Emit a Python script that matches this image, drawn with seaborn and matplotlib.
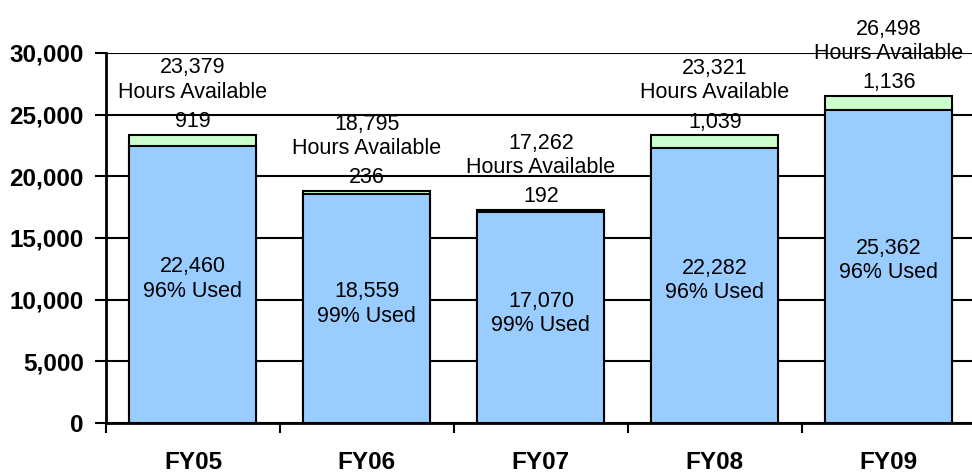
import pandas as pd
import seaborn as sns
import matplotlib.pyplot as plt
from matplotlib.ticker import FuncFormatter, FixedLocator

# data
years = ["FY05", "FY06", "FY07", "FY08", "FY09"]
used_hours = [22460, 18559, 17070, 22282, 25362]
unused_hours = [919, 236, 192, 1039, 1136]
available_hours = [23379, 18795, 17262, 23321, 26498]

df = pd.DataFrame({"year": years, "used": used_hours,
                   "unused": unused_hours, "available": available_hours})

sns.set_style("white")
plt.rcParams['font.family'] = ['Liberation Sans', 'DejaVu Sans']
plt.rcParams['text.color'] = 'black'
plt.rcParams['xtick.color'] = 'black'
plt.rcParams['ytick.color'] = 'black'

fig = plt.figure(figsize=(9.72, 4.76), dpi=100)
ax = fig.add_axes([0.109, 0.111, 0.895, 0.778])

ax.set_axisbelow(True)
ax.yaxis.grid(True, color="black", linewidth=1.5)

# total bar (green) underneath, used (blue) on top of it
sns.barplot(data=df, x="year", y="available", color="#CCFFCC", saturation=1,
            edgecolor="black", linewidth=1.5, width=0.73, ax=ax)
sns.barplot(data=df, x="year", y="used", color="#99CCFF", saturation=1,
            edgecolor="black", linewidth=1.5, width=0.73, ax=ax)

ax.set_ylim(0, 30000)
ax.set_xlim(-0.5, 4.5)
ax.set_xlabel("")
ax.set_ylabel("")
ax.yaxis.set_major_locator(FixedLocator(range(0, 30001, 5000)))
ax.yaxis.set_major_formatter(FuncFormatter(lambda v, p: f"{int(v):,}"))
for lab in ax.get_yticklabels():
    lab.set_fontweight("bold")
    lab.set_fontsize(17.5)
ax.tick_params(axis="y", left=True, length=8, width=1.5, direction="out", pad=8)

# x ticks sit between categories
ax.set_xticks(range(len(years)))
ax.set_xticklabels(years, fontsize=17.5, fontweight="bold")
ax.set_xticks([i - 0.5 for i in range(len(years) + 1)], minor=True)
ax.tick_params(axis="x", which="major", length=0, pad=20)
ax.tick_params(axis="x", which="minor", bottom=True, length=7, width=1.5, direction="out")

for side in ["top", "right"]:
    ax.spines[side].set_visible(False)
for side in ["left", "bottom"]:
    ax.spines[side].set_linewidth(2)
    ax.spines[side].set_color("black")

for i, row in df.iterrows():
    pct = round(100 * row["used"] / row["available"])
    ax.text(i, row["used"] * 0.52, f"{row['used']:,}\n{pct}% Used",
            ha="center", va="center", fontsize=15.5, linespacing=1.2)
    ax.annotate(f"{row['unused']:,}", (i, row["available"]),
                xytext=(0, 2), textcoords="offset points",
                ha="center", va="bottom", fontsize=15.5)
    ax.annotate(f"{row['available']:,}\nHours Available", (i, row["available"]),
                xytext=(0, 23), textcoords="offset points",
                ha="center", va="bottom", fontsize=15.5, linespacing=1.2,
                annotation_clip=False)

fig.savefig("out.png", dpi=100)
